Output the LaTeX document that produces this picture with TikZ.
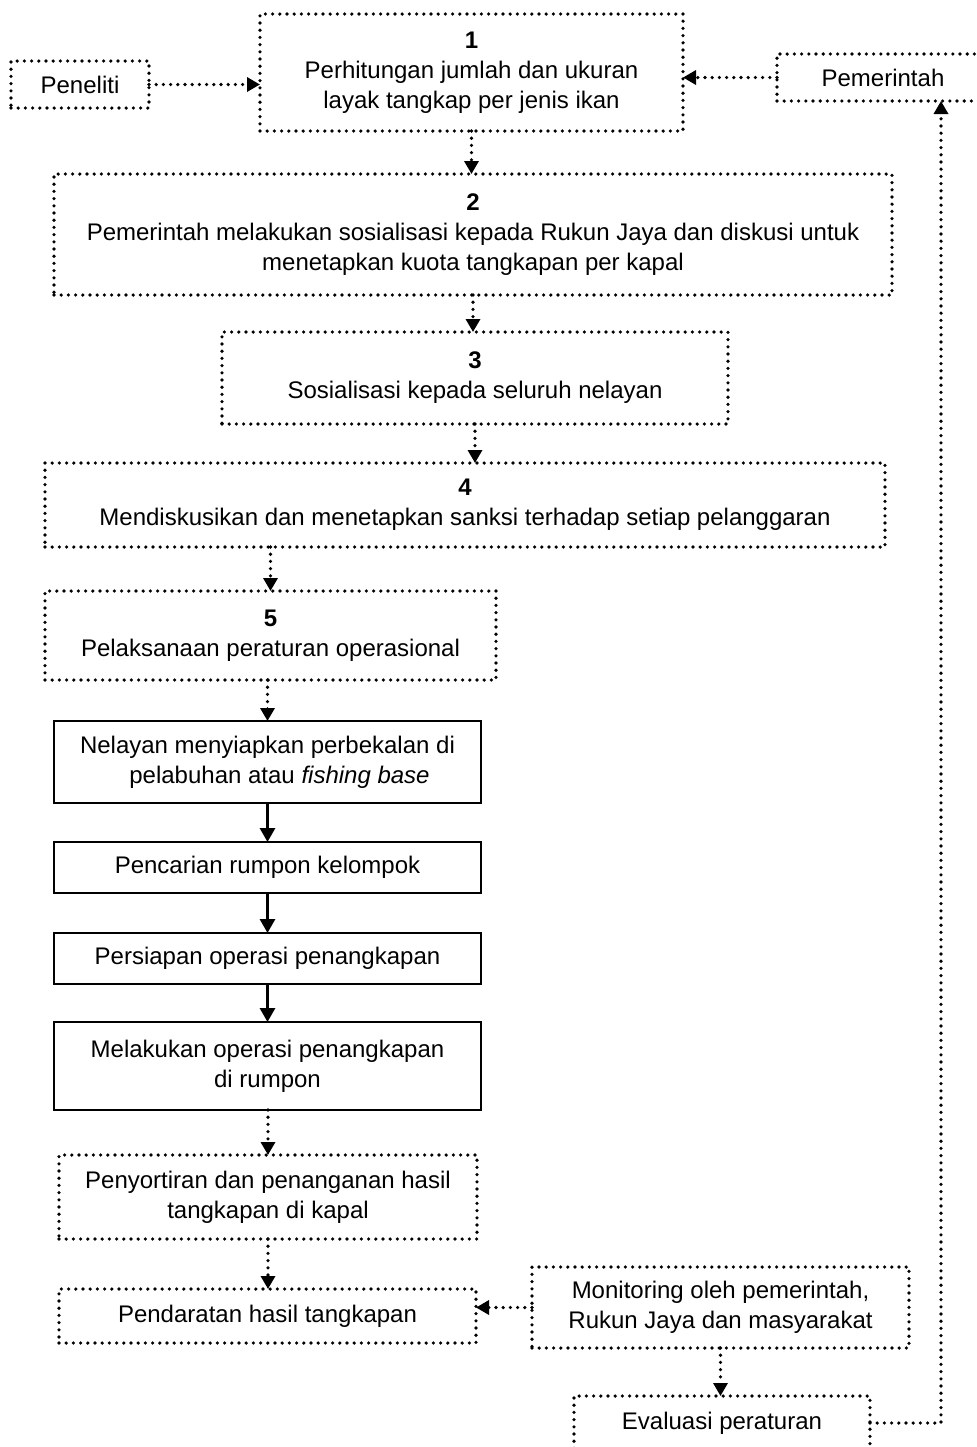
\documentclass[tikz,border=0pt]{standalone}
\usepackage{fontspec}
\setmainfont{Liberation Sans}
\usetikzlibrary{arrows.meta}
\begin{document}
\begin{tikzpicture}[x=0.5pt,y=-0.5pt,
  txt/.style={inner sep=0pt, outer sep=0pt, align=center, font=\fontsize{12}{15}\selectfont},
  dotbox/.style={txt, draw, line width=1.8pt, dash pattern=on 0pt off 3.6pt, line cap=round},
  solidbox/.style={txt, draw, line width=1pt},
  dotarrow/.style={line width=1.8pt, dash pattern=on 0pt off 3.6pt, line cap=round, -{Triangle[length=6.5pt,width=7pt]}},
  solidarrow/.style={line width=1.5pt, -{Triangle[length=7pt,width=7.5pt]}}
]
\useasboundingbox[fill=white] (0,0) rectangle (976,1447);

\node[dotbox, minimum width=69pt, minimum height=23.5pt] (pen) at (80,84.5) {Peneliti};
\node[dotbox, minimum width=211.5pt, minimum height=58.5pt] (b1) at (471.5,72.5)
  {\textbf{1}\\Perhitungan jumlah dan ukuran\\layak tangkap per jenis ikan};
\node[dotbox, minimum width=106pt, minimum height=23.5pt] (pem) at (883,77.5) {Pemerintah};
\node[dotbox, minimum width=419pt, minimum height=60.5pt] (b2) at (473,234.5)
  {\textbf{2}\\Pemerintah melakukan sosialisasi kepada Rukun Jaya dan diskusi untuk\\menetapkan kuota tangkapan per kapal};
\node[dotbox, minimum width=253pt, minimum height=46pt] (b3) at (475,378)
  {\textbf{3}\\Sosialisasi kepada seluruh nelayan};
\node[dotbox, minimum width=420pt, minimum height=42pt] (b4) at (465,505)
  {\textbf{4}\\Mendiskusikan dan menetapkan sanksi terhadap setiap pelanggaran};
\node[dotbox, minimum width=225.5pt, minimum height=44.5pt] (b5) at (270.5,635.5)
  {\textbf{5}\\Pelaksanaan peraturan operasional};

\node[solidbox, minimum width=213.5pt, minimum height=41pt] (nel) at (267.5,762)
  {Nelayan menyiapkan perbekalan di\\\hspace*{12pt}pelabuhan atau \textit{fishing base}};
\node[solidbox, minimum width=213.5pt, minimum height=25.5pt] (pcr) at (267.5,867.5)
  {Pencarian rumpon kelompok};
\node[solidbox, minimum width=213.5pt, minimum height=25.5pt] (psp) at (267.5,958.5)
  {Persiapan operasi penangkapan};
\node[solidbox, minimum width=213.5pt, minimum height=44pt] (mlk) at (267.5,1066)
  {Melakukan operasi penangkapan\\di rumpon};

\node[dotbox, minimum width=209pt, minimum height=42pt] (pny) at (268,1197)
  {Penyortiran dan penanganan hasil\\tangkapan di kapal};
\node[dotbox, minimum width=208.5pt, minimum height=27pt] (pdr) at (267.5,1316)
  {Pendaratan hasil tangkapan};
\node[dotbox, minimum width=188.5pt, minimum height=40.5pt] (mon) at (720.5,1307.5)
  {Monitoring oleh pemerintah,\\Rukun Jaya dan masyarakat};
\node[dotbox, minimum width=148pt, minimum height=27pt] (evl) at (722,1423)
  {Evaluasi peraturan};

\coordinate (corner) at (941,1423);

% connectors
\draw[dotarrow] (pen.east) -- (pen.east -| b1.west);
\draw[dotarrow] (pem.west) -- (pem.west -| b1.east);
\draw[dotarrow] (b1.south) -- (b1.south |- b2.north);
\draw[dotarrow] (b2.south) -- (b2.south |- b3.north);
\draw[dotarrow] (b3.south) -- (b3.south |- b4.north);
\draw[dotarrow] (b5.north |- b4.south) -- (b5.north);
\draw[dotarrow] (nel.north |- b5.south) -- (nel.north);
\draw[solidarrow] (nel.south) -- (pcr.north);
\draw[solidarrow] (pcr.south) -- (psp.north);
\draw[solidarrow] (psp.south) -- (mlk.north);
\draw[dotarrow] (pny.north |- mlk.south) -- (pny.north);
\draw[dotarrow] (pny.south) -- (pny.south |- pdr.north);
\draw[dotarrow] (mon.west) -- (mon.west -| pdr.east);
\draw[dotarrow] (mon.south) -- (mon.south |- evl.north);
\draw[dotarrow] (evl.east) -- (corner) -- (corner |- pem.south);
\end{tikzpicture}
\end{document}
